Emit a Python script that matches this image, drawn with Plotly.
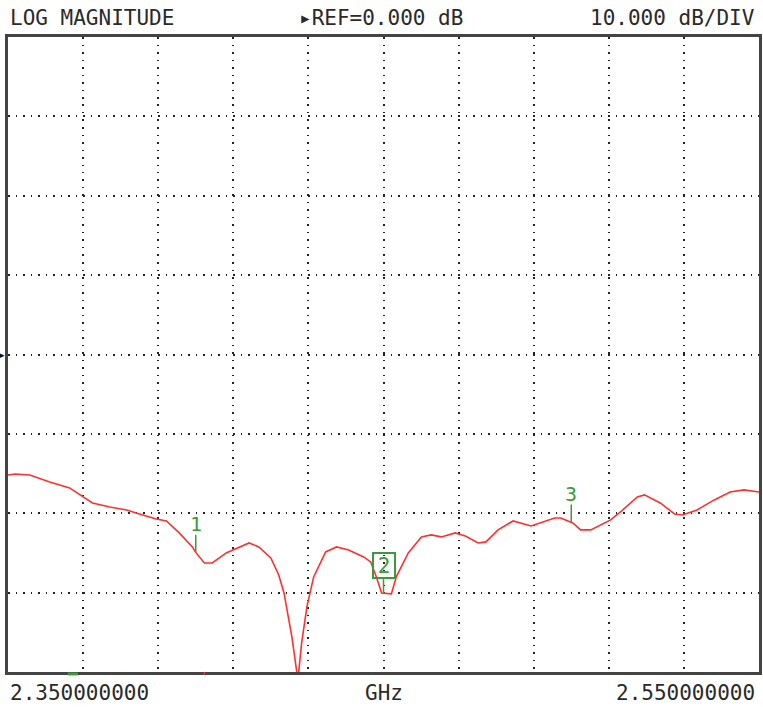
import plotly.graph_objects as go

# Trace data (frequency in GHz, magnitude in dB)
freq_ghz = [2.3500, 2.3519, 2.3558, 2.3611, 2.3664, 2.3699, 2.3725, 2.3771, 2.3816, 2.3850,
            2.3895, 2.3922, 2.3956, 2.3991, 2.3999, 2.4023, 2.4044, 2.4081, 2.4115, 2.4142,
            2.4168, 2.4200, 2.4221, 2.4235, 2.4256, 2.4272, 2.4282, 2.4296, 2.4314, 2.4346,
            2.4375, 2.4407, 2.4447, 2.4466, 2.4481, 2.4495, 2.4521, 2.4534, 2.4566, 2.4601,
            2.4627, 2.4654, 2.4691, 2.4718, 2.4752, 2.4773, 2.4805, 2.4845, 2.4893, 2.4956,
            2.4972, 2.5004, 2.5025, 2.5052, 2.5105, 2.5131, 2.5176, 2.5195, 2.5237, 2.5275,
            2.5296, 2.5335, 2.5381, 2.5423, 2.5460, 2.5500]
mag_db = [-15.18, -15.05, -15.18, -16.06, -16.81, -17.95, -18.70, -19.21, -19.58, -20.09,
          -20.72, -20.97, -22.48, -24.24, -24.87, -26.26, -26.26, -25.00, -24.24, -23.74,
          -24.24, -25.63, -27.77, -30.04, -35.58, -41.00, -36.34, -31.80, -28.02, -24.87,
          -24.24, -24.62, -25.50, -26.13, -28.02, -30.04, -30.16, -28.02, -25.00, -22.98,
          -22.73, -22.98, -22.48, -22.86, -23.74, -23.61, -22.10, -20.97, -21.60, -20.59,
          -20.59, -21.22, -22.10, -22.10, -20.84, -19.84, -17.95, -17.69, -18.70, -20.09,
          -20.21, -19.58, -18.32, -17.32, -17.06, -17.32]

marker_names = ["1", "2", "3"]
marker_freq = [2.400, 2.450, 2.500]
marker_db = [-24.9, -30.1, -21.1]

ref_db = 0.0
db_per_div = 10.0
start_ghz = 2.35
stop_ghz = 2.55

header_left = "LOG MAGNITUDE"
header_mid = "▸REF=0.000 dB"
header_right = "10.000 dB/DIV"
footer_left = "2.350000000"
footer_mid = "GHz"
footer_right = "2.550000000"

FONT = "DejaVu Sans Mono"
TXT = "#2a2a2a"
GREEN = "#3c9a3c"
RED = "#ff3030"

fig = go.Figure()
fig.add_trace(go.Scatter(x=freq_ghz, y=mag_db, mode="lines",
                         line=dict(color=RED, width=1.6), hoverinfo="skip"))

shapes = []
annotations = []
for name, f, d in zip(marker_names, marker_freq, marker_db):
    if name == "2":
        shapes.append(dict(type="line", xref="x", yref="y", x0=f, x1=f, y0=d, y1=d + 1.8,
                           line=dict(color=GREEN, width=1.5)))
        annotations.append(dict(x=f, y=d + 1.8, xref="x", yref="y", text=name, showarrow=False,
                                yanchor="bottom", font=dict(family=FONT, size=21, color=GREEN),
                                bordercolor=GREEN, borderwidth=2, borderpad=1,
                                width=18, height=21, bgcolor="rgba(0,0,0,0)"))
    else:
        shapes.append(dict(type="line", xref="x", yref="y", x0=f, x1=f, y0=d, y1=d + 2.2,
                           line=dict(color=GREEN, width=1.5)))
        annotations.append(dict(x=f, y=d + 2.2, xref="x", yref="y", text=name, showarrow=False,
                                yanchor="bottom", yshift=-3,
                                font=dict(family=FONT, size=20, color=GREEN)))

# small indicator bars on the bottom edge
shapes.append(dict(type="line", xref="x", yref="paper", x0=2.3659, x1=2.3686, y0=-0.003, y1=-0.003,
                   line=dict(color=GREEN, width=3)))
shapes.append(dict(type="line", xref="x", yref="paper", x0=2.4023, x1=2.4023, y0=0.0, y1=-0.004,
                   line=dict(color=RED, width=1.5)))

txtfont = dict(family=FONT, size=21, color=TXT)
annotations += [
    dict(x=0, y=1, xref="paper", yref="paper", text=header_left, showarrow=False,
         xanchor="left", yanchor="middle", yshift=19, font=txtfont),
    dict(x=0.3846, y=1, xref="paper", yref="paper", text=header_mid, showarrow=False,
         xanchor="left", yanchor="middle", yshift=19, font=txtfont),
    dict(x=0.998, y=1, xref="paper", yref="paper", text=header_right, showarrow=False,
         xanchor="right", yanchor="middle", yshift=19, font=txtfont),
    dict(x=0, y=0, xref="paper", yref="paper", text=footer_left, showarrow=False,
         xanchor="left", yanchor="middle", yshift=-21, font=txtfont),
    dict(x=0.5, y=0, xref="paper", yref="paper", text=footer_mid, showarrow=False,
         xanchor="center", yanchor="middle", yshift=-21, font=txtfont),
    dict(x=0.998, y=0, xref="paper", yref="paper", text=footer_right, showarrow=False,
         xanchor="right", yanchor="middle", yshift=-21, font=txtfont),
    dict(x=0, y=ref_db, xref="paper", yref="y", text="▶", showarrow=False,
         xanchor="right", yanchor="middle", xshift=-1, font=dict(family=FONT, size=9, color="#111")),
]

fig.update_layout(
    width=763, height=709,
    margin=dict(l=8, r=1, t=37, b=37),
    paper_bgcolor="white", plot_bgcolor="white",
    showlegend=False,
    shapes=shapes, annotations=annotations,
    xaxis=dict(range=[start_ghz, stop_ghz], dtick=(stop_ghz - start_ghz) / 10, tick0=start_ghz,
               showticklabels=False, ticks="", zeroline=False,
               showgrid=True, gridcolor="#222", gridwidth=1.5, griddash="1.5px,6px",
               showline=True, mirror=True, linecolor="#444", linewidth=2.5),
    yaxis=dict(range=[ref_db - 4 * db_per_div, ref_db + 4 * db_per_div], dtick=db_per_div,
               tick0=ref_db, showticklabels=False, ticks="", zeroline=False,
               showgrid=True, gridcolor="#222", gridwidth=1.5, griddash="1.5px,6px",
               showline=True, mirror=True, linecolor="#444", linewidth=2.5),
)

fig.write_html("out.html", config={"displayModeBar": False},
               post_script="document.body.style.margin='0';document.body.style.overflow='hidden';")
